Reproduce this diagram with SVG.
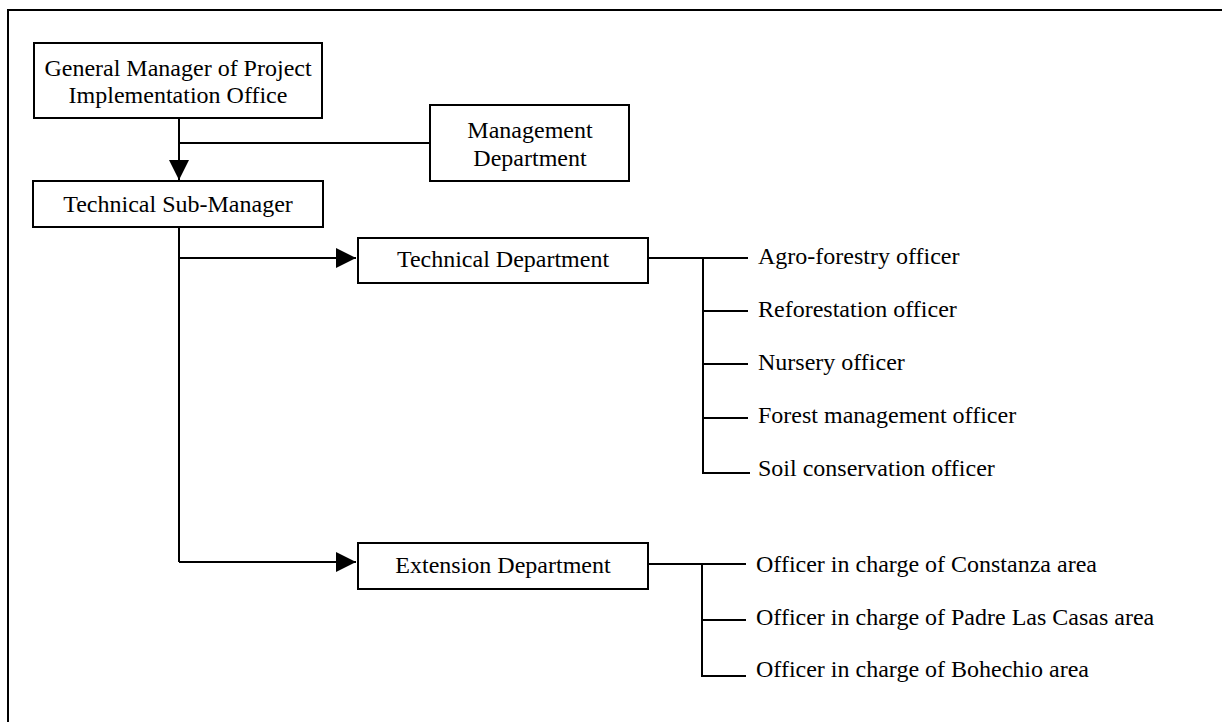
<svg xmlns="http://www.w3.org/2000/svg" width="1222" height="722" viewBox="0 0 1222 722">
  <style>
    .box { fill: #ffffff; stroke: #000000; stroke-width: 2; }
    .ln { fill: none; stroke: #000000; stroke-width: 2; }
    text { font-family: "Liberation Serif", "Times New Roman", serif; font-size: 24px; fill: #000000; }
    .c { text-anchor: middle; }
  </style>
  <defs>
    <marker id="arrow" markerUnits="userSpaceOnUse" markerWidth="20" markerHeight="20" refX="20" refY="10" orient="auto">
      <path d="M0,0 L20,10 L0,20 Z" fill="#000000"/>
    </marker>
  </defs>
  <rect width="1222" height="722" fill="#ffffff"/>
  <!-- outer frame -->
  <path class="ln" d="M8,722 V10 H1222"/>

  <g id="connectors">
    <path class="ln" d="M179,118 V180" marker-end="url(#arrow)"/>
    <path class="ln" d="M179,143 H430"/>
    <path class="ln" d="M179,227 V562"/>
    <path class="ln" d="M179,258 H356" marker-end="url(#arrow)"/>
    <path class="ln" d="M179,562 H356" marker-end="url(#arrow)"/>
    <!-- technical department branches -->
    <path class="ln" d="M648,258 H748"/>
    <path class="ln" d="M703,258 V473 H750"/>
    <path class="ln" d="M703,311 H748"/>
    <path class="ln" d="M703,364 H748"/>
    <path class="ln" d="M703,418 H748"/>
    <!-- extension department branches -->
    <path class="ln" d="M648,564 H746"/>
    <path class="ln" d="M702,564 V676 H746"/>
    <path class="ln" d="M702,620 H746"/>
  </g>

  <g id="general-manager">
    <rect class="box" x="34" y="43" width="288" height="75"/>
    <text class="c" x="178" y="76">General Manager of Project</text>
    <text class="c" x="178" y="103">Implementation Office</text>
  </g>
  <g id="management-department">
    <rect class="box" x="430" y="105" width="199" height="76"/>
    <text class="c" x="530" y="138">Management</text>
    <text class="c" x="530" y="166">Department</text>
  </g>
  <g id="technical-sub-manager">
    <rect class="box" x="33" y="181" width="290" height="46"/>
    <text class="c" x="178" y="212">Technical Sub-Manager</text>
  </g>
  <g id="technical-department">
    <rect class="box" x="358" y="238" width="290" height="45"/>
    <text class="c" x="503" y="267">Technical Department</text>
  </g>
  <g id="extension-department">
    <rect class="box" x="358" y="543" width="290" height="46"/>
    <text class="c" x="503" y="573">Extension Department</text>
  </g>

  <g id="technical-officers">
    <text x="758" y="264">Agro-forestry officer</text>
    <text x="758" y="317">Reforestation officer</text>
    <text x="758" y="370">Nursery officer</text>
    <text x="758" y="423">Forest management officer</text>
    <text x="758" y="476">Soil conservation officer</text>
  </g>
  <g id="extension-officers">
    <text x="756" y="572">Officer in charge of Constanza area</text>
    <text x="756" y="625">Officer in charge of Padre Las Casas area</text>
    <text x="756" y="677">Officer in charge of Bohechio area</text>
  </g>
</svg>
